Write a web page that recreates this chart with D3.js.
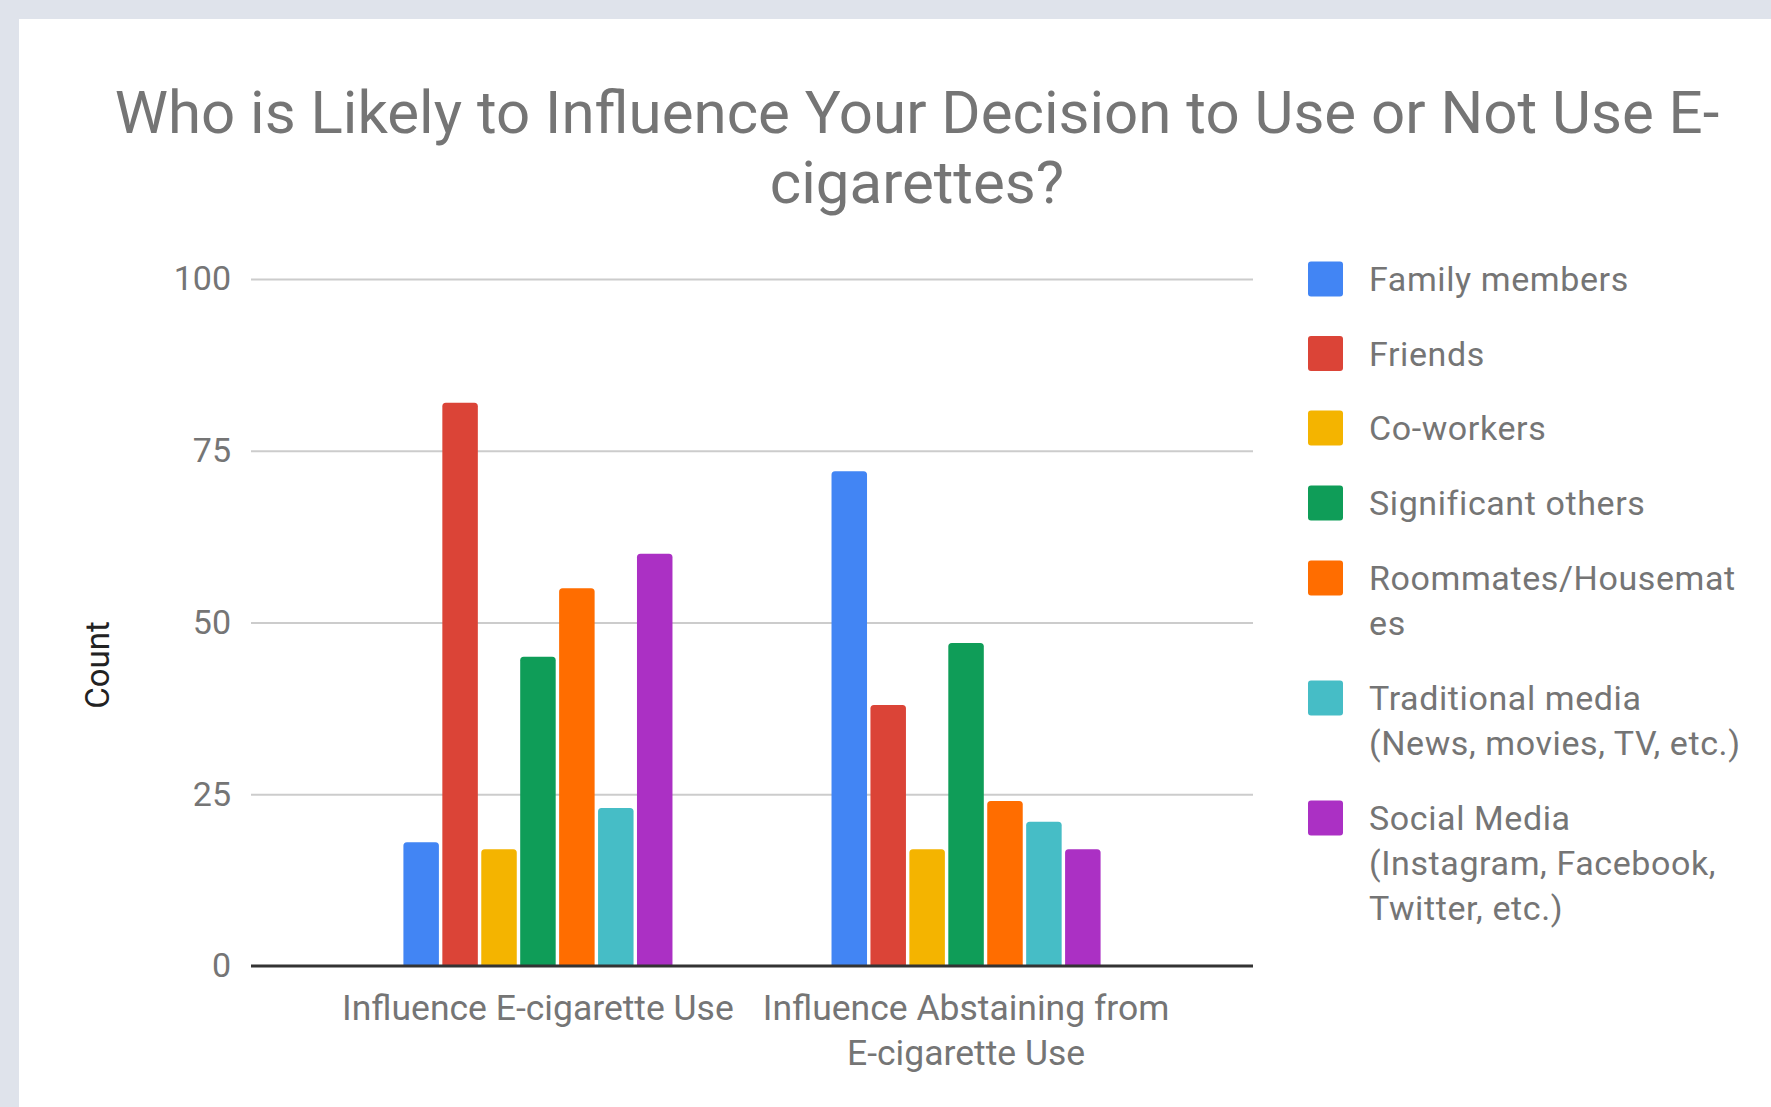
<!DOCTYPE html>
<html>
<head>
<meta charset="utf-8">
<script src="https://cdn.jsdelivr.net/npm/d3@7"></script>
<style>
  html, body { margin: 0; padding: 0; background: #dfe3eb; }
  svg { display: block; }
</style>
</head>
<body>
<svg id="chart" width="1771" height="1107"></svg>
<script>
// ---------- data ----------
const categories = ["Influence E-cigarette Use", "Influence Abstaining from E-cigarette Use"];
const categoryLines = [["Influence E-cigarette Use"], ["Influence Abstaining from", "E-cigarette Use"]];
const seriesNames = ["Family members", "Friends", "Co-workers", "Significant others",
  "Roommates/Housemates", "Traditional media (News, movies, TV, etc.)",
  "Social Media (Instagram, Facebook, Twitter, etc.)"];
const legendLines = [["Family members"], ["Friends"], ["Co-workers"], ["Significant others"],
  ["Roommates/Housemat", "es"], ["Traditional media", "(News, movies, TV, etc.)"],
  ["Social Media", "(Instagram, Facebook,", "Twitter, etc.)"]];
const valuesUse = [18, 82, 17, 45, 55, 23, 60];
const valuesAbstain = [72, 38, 17, 47, 24, 21, 17];
const seriesColors = ["#4285F4", "#DB4437", "#F4B400", "#0F9D58", "#FF6D00", "#46BDC6", "#AB30C4"];
const yTicks = [0, 25, 50, 75, 100];
const titleLines = ["Who is Likely to Influence Your Decision to Use or Not Use E-", "cigarettes?"];
const yAxisTitle = "Count";

const table = categories.map((c, i) => ({
  category: c,
  values: (i === 0 ? valuesUse : valuesAbstain).map((v, j) => ({ series: seriesNames[j], value: v }))
}));

// ---------- layout ----------
const svg = d3.select("#chart");
const FONT = "Roboto, 'Noto Sans', sans-serif";
const plot = { left: 251, right: 1253, top: 279, bottom: 966 };

svg.append("rect").attr("x", 19).attr("y", 19).attr("width", 1771 - 19).attr("height", 1107 - 19)
  .attr("fill", "#ffffff");

const x0 = d3.scaleBand().domain(categories).range([plot.left, plot.right])
  .paddingInner(0.3715).paddingOuter(0.356);
const x1 = d3.scaleBand().domain(seriesNames).range([0, x0.bandwidth()]).paddingInner(0.088);
const y = d3.scaleLinear().domain([0, 100]).range([plot.bottom, plot.top]);
const color = d3.scaleOrdinal().domain(seriesNames).range(seriesColors);

// title
const title = svg.append("text").attr("font-family", FONT).attr("font-size", 60)
  .attr("fill", "#757575").attr("text-anchor", "middle");
titleLines.forEach((t, i) => title.append("tspan").attr("x", 917).attr("y", 133 + i * 70).text(t));

// gridlines + y axis labels
const yAxis = d3.axisLeft(y).tickValues(yTicks).tickSize(0).tickPadding(20);
const gy = svg.append("g").attr("transform", `translate(${plot.left},0)`).call(yAxis);
gy.select(".domain").remove();
gy.selectAll("text").attr("font-family", FONT).attr("font-size", 34).attr("fill", "#757575");

const grid = d3.axisLeft(y).tickValues(yTicks.filter(d => d !== 0)).tickSize(-(plot.right - plot.left)).tickFormat("");
const gg = svg.append("g").attr("transform", `translate(${plot.left},0)`).call(grid);
gg.select(".domain").remove();
gg.selectAll("line").attr("stroke", "#cccccc").attr("stroke-width", 2);

// bars
function topRounded(x, yy, w, h, r) {
  r = Math.min(r, h, w / 2);
  return `M${x},${yy + h}V${yy + r}Q${x},${yy} ${x + r},${yy}H${x + w - r}Q${x + w},${yy} ${x + w},${yy + r}V${yy + h}Z`;
}
const groups = svg.append("g").selectAll("g").data(table).join("g")
  .attr("transform", d => `translate(${x0(d.category)},0)`);
groups.selectAll("path").data(d => d.values).join("path")
  .attr("fill", d => color(d.series))
  .attr("d", d => topRounded(x1(d.series), y(d.value), x1.bandwidth(), y(0) - y(d.value), 3.5));

// baseline
const xAxis = d3.axisBottom(x0).tickSize(0).tickFormat("");
const gx = svg.append("g").attr("transform", `translate(0,${plot.bottom})`).call(xAxis);
gx.select(".domain").attr("stroke", "#333333").attr("stroke-width", 3)
  .attr("d", `M${plot.left},0H${plot.right}`);

// x labels
categories.forEach((c, i) => {
  const t = svg.append("text").attr("font-family", FONT).attr("font-size", 35.5)
    .attr("fill", "#757575").attr("text-anchor", "middle");
  categoryLines[i].forEach((ln, k) => t.append("tspan")
    .attr("x", x0(c) + x0.bandwidth() / 2).attr("y", 1020 + k * 45).text(ln));
});

// y axis title
svg.append("text").attr("font-family", FONT).attr("font-size", 33).attr("fill", "#222222")
  .attr("text-anchor", "middle")
  .attr("transform", "translate(109,665) rotate(-90)").text(yAxisTitle);

// legend
const legendTops = [279, 353.5, 428, 503, 578, 698, 818];
seriesNames.forEach((s, i) => {
  const cy = legendTops[i];
  svg.append("rect").attr("x", 1308).attr("y", cy - 17.5).attr("width", 35).attr("height", 35)
    .attr("rx", 3).attr("fill", color(s));
  const t = svg.append("text").attr("font-family", FONT).attr("font-size", 34)
    .attr("letter-spacing", 0.6).attr("fill", "#757575");
  legendLines[i].forEach((ln, k) => t.append("tspan").attr("x", 1369).attr("y", cy + 12 + k * 45).text(ln));
});
</script>
</body>
</html>
